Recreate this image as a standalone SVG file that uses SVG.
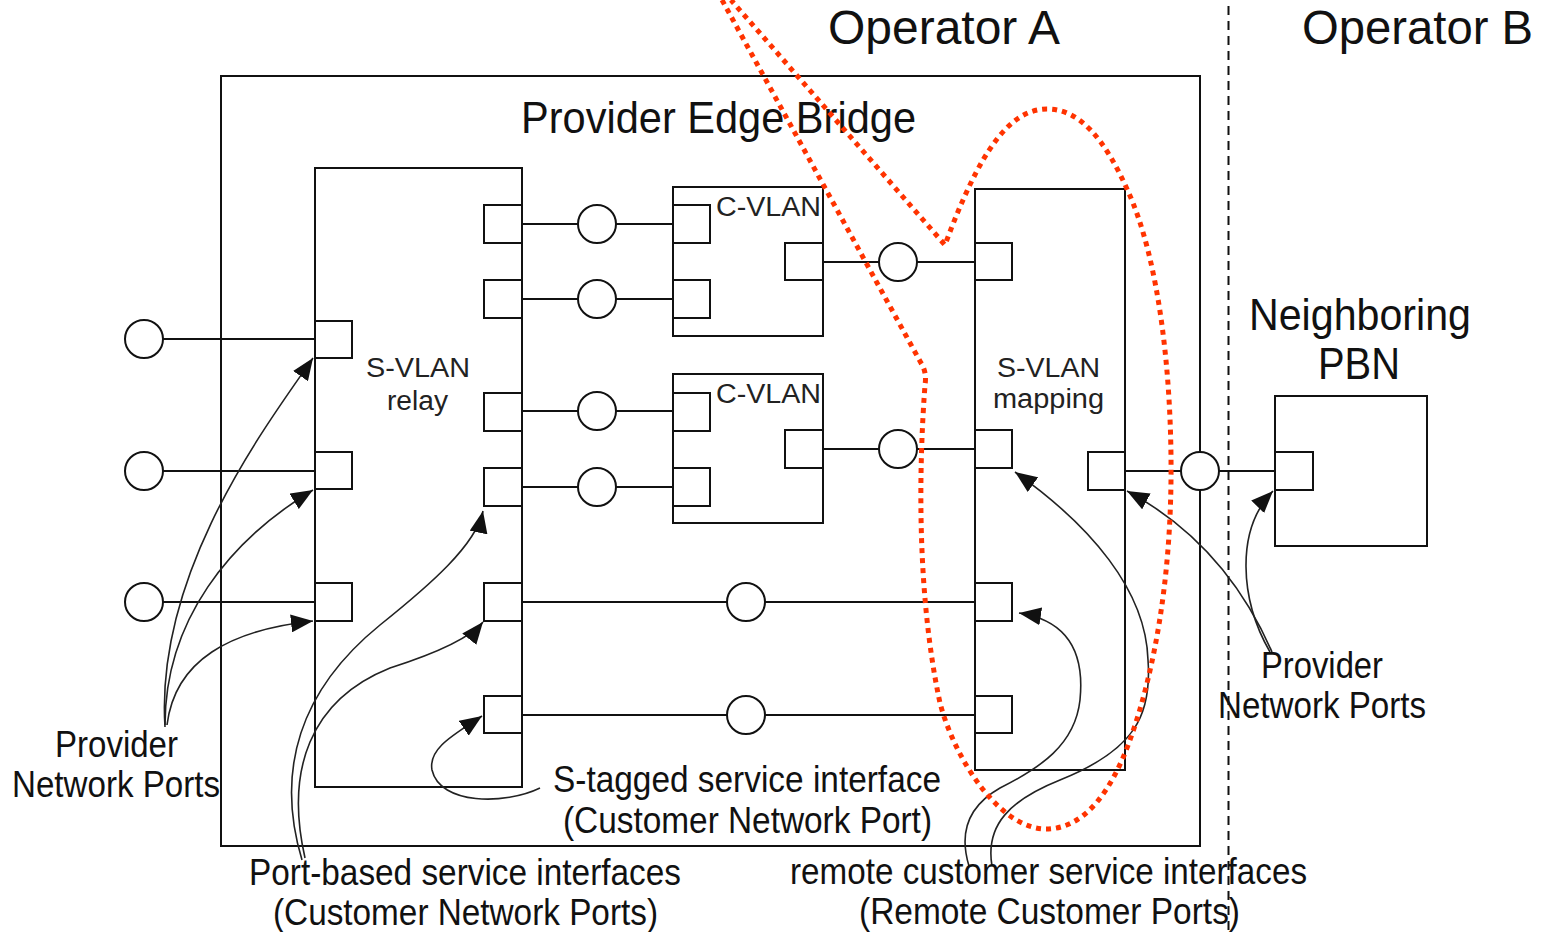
<svg xmlns="http://www.w3.org/2000/svg" width="1545" height="932" viewBox="0 0 1545 932">
<style>
.bx{fill:none;stroke:#111;stroke-width:2}
.pt{fill:#fff;stroke:#111;stroke-width:2}
.cr{fill:#fff;stroke:#111;stroke-width:2}
.ln{fill:none;stroke:#111;stroke-width:2}
.ar{fill:none;stroke:#222;stroke-width:1.6;marker-end:url(#ah)}
.red{fill:none;stroke:#ff3300;stroke-width:5;stroke-dasharray:5 5}
.dash{fill:none;stroke:#111;stroke-width:2;stroke-dasharray:9 6}
text{font-family:"Liberation Sans",Arial,sans-serif;fill:#111}
.big{font-size:48px}
.mid{font-size:44px}
.lab{font-size:37px}
.sm{font-size:27px;fill:#222}
</style>
<defs>
<marker id="ah" viewBox="0 0 22 18" refX="22" refY="9" markerWidth="22" markerHeight="18" markerUnits="userSpaceOnUse" orient="auto">
<path d="M0,0 L22,9 L0,18 z" fill="#111"/>
</marker>
</defs>
<rect width="1545" height="932" fill="#fff"/>

<g id="operator-labels">
<text class="big" x="828" y="44" textLength="232" lengthAdjust="spacingAndGlyphs">Operator A</text>
<text class="big" x="1302" y="44" textLength="231" lengthAdjust="spacingAndGlyphs">Operator B</text>
</g>
<line id="operator-boundary" class="dash" x1="1228.5" y1="6" x2="1228.5" y2="932"/>

<g id="provider-edge-bridge">
<rect class="bx" x="221" y="76" width="979" height="770"/>
<text class="mid" x="521" y="133" textLength="395" lengthAdjust="spacingAndGlyphs">Provider Edge Bridge</text>
</g>

<g id="svlan-relay">
<rect class="bx" x="315" y="168" width="207" height="619"/>
<rect class="pt" x="315" y="321" width="37" height="37"/>
<rect class="pt" x="315" y="452" width="37" height="37"/>
<rect class="pt" x="315" y="583" width="37" height="38"/>
<rect class="pt" x="484" y="205" width="38" height="38"/>
<rect class="pt" x="484" y="280" width="38" height="38"/>
<rect class="pt" x="484" y="393" width="38" height="38"/>
<rect class="pt" x="484" y="468" width="38" height="38"/>
<rect class="pt" x="484" y="583" width="38" height="38"/>
<rect class="pt" x="484" y="696" width="38" height="37"/>
<text class="sm" x="366" y="377" textLength="104" lengthAdjust="spacingAndGlyphs">S-VLAN</text>
<text class="sm" x="387" y="410" textLength="61" lengthAdjust="spacingAndGlyphs">relay</text>
</g>

<g id="cvlan-1">
<rect class="bx" x="673" y="187" width="150" height="149"/>
<rect class="pt" x="673" y="205" width="37" height="38"/>
<rect class="pt" x="673" y="280" width="37" height="38"/>
<rect class="pt" x="785" y="243" width="38" height="37"/>
<text class="sm" x="716" y="216" textLength="105" lengthAdjust="spacingAndGlyphs">C-VLAN</text>
</g>

<g id="cvlan-2">
<rect class="bx" x="673" y="374" width="150" height="149"/>
<rect class="pt" x="673" y="393" width="37" height="38"/>
<rect class="pt" x="673" y="468" width="37" height="38"/>
<rect class="pt" x="785" y="430" width="38" height="38"/>
<text class="sm" x="716" y="403" textLength="105" lengthAdjust="spacingAndGlyphs">C-VLAN</text>
</g>

<g id="svlan-mapping">
<rect class="bx" x="975" y="189" width="150" height="581"/>
<rect class="pt" x="975" y="243" width="37" height="37"/>
<rect class="pt" x="975" y="430" width="37" height="38"/>
<rect class="pt" x="975" y="583" width="37" height="38"/>
<rect class="pt" x="975" y="696" width="37" height="37"/>
<rect class="pt" x="1088" y="452" width="37" height="38"/>
<text class="sm" x="997" y="377" textLength="103" lengthAdjust="spacingAndGlyphs">S-VLAN</text>
<text class="sm" x="993" y="408" textLength="111" lengthAdjust="spacingAndGlyphs">mapping</text>
</g>

<g id="neighboring-pbn">
<rect class="bx" x="1275" y="396" width="152" height="150"/>
<rect class="pt" x="1275" y="452" width="38" height="38"/>
<text class="mid" x="1249" y="330" textLength="222" lengthAdjust="spacingAndGlyphs">Neighboring</text>
<text class="mid" x="1318" y="379" textLength="82" lengthAdjust="spacingAndGlyphs">PBN</text>
</g>

<g id="connectors">
<line class="ln" x1="163" y1="339" x2="315" y2="339"/>
<line class="ln" x1="163" y1="471" x2="315" y2="471"/>
<line class="ln" x1="163" y1="602" x2="315" y2="602"/>
<line class="ln" x1="522" y1="224" x2="673" y2="224"/>
<line class="ln" x1="522" y1="299" x2="673" y2="299"/>
<line class="ln" x1="522" y1="411" x2="673" y2="411"/>
<line class="ln" x1="522" y1="487" x2="673" y2="487"/>
<line class="ln" x1="522" y1="602" x2="975" y2="602"/>
<line class="ln" x1="522" y1="715" x2="975" y2="715"/>
<line class="ln" x1="823" y1="262" x2="975" y2="262"/>
<line class="ln" x1="823" y1="449" x2="975" y2="449"/>
<line class="ln" x1="1125" y1="471" x2="1275" y2="471"/>
<circle class="cr" cx="144" cy="339" r="19"/>
<circle class="cr" cx="144" cy="471" r="19"/>
<circle class="cr" cx="144" cy="602" r="19"/>
<circle class="cr" cx="597" cy="224" r="19"/>
<circle class="cr" cx="597" cy="299" r="19"/>
<circle class="cr" cx="597" cy="411" r="19"/>
<circle class="cr" cx="597" cy="487" r="19"/>
<circle class="cr" cx="746" cy="602" r="19"/>
<circle class="cr" cx="746" cy="715" r="19"/>
<circle class="cr" cx="898" cy="262" r="19"/>
<circle class="cr" cx="898" cy="449" r="19"/>
<circle class="cr" cx="1200" cy="471" r="19"/>
</g>

<g id="callouts">
<path class="ar" d="M165,727 C155,570 269,422 313,358"/>
<path class="ar" d="M165,725 C165,620 230,540 313,490"/>
<path class="ar" d="M167,725 C175,660 230,630 313,621"/>
<path class="ar" d="M302,860 C275,770 300,690 380,625 C430,585 476,545 483,511"/>
<path class="ar" d="M305,858 C285,770 310,700 390,668 C440,652 471,637 483,622"/>
<path class="ar" d="M540,788 C505,805 440,805 432,770 C428,748 455,734 482,716"/>
<path class="ar" d="M992,866 C985,825 1010,800 1060,780 C1135,750 1152,715 1148,660 C1146,590 1090,525 1015,472"/>
<path class="ar" d="M969,866 C958,830 970,805 1000,788 C1040,768 1075,745 1080,700 C1085,650 1065,620 1019,613"/>
<path class="ar" d="M1272,652 C1245,590 1200,530 1127,491"/>
<path class="ar" d="M1270,652 C1240,600 1235,530 1273,491"/>
</g>

<g id="labels">
<text class="lab" x="55" y="757" textLength="123" lengthAdjust="spacingAndGlyphs">Provider</text>
<text class="lab" x="12" y="797" textLength="208" lengthAdjust="spacingAndGlyphs">Network Ports</text>
<text class="lab" x="1261" y="678" textLength="122" lengthAdjust="spacingAndGlyphs">Provider</text>
<text class="lab" x="1218" y="718" textLength="208" lengthAdjust="spacingAndGlyphs">Network Ports</text>
<text class="lab" x="553" y="792" textLength="388" lengthAdjust="spacingAndGlyphs">S-tagged service interface</text>
<text class="lab" x="563" y="833" textLength="369" lengthAdjust="spacingAndGlyphs">(Customer Network Port)</text>
<text class="lab" x="249" y="885" textLength="432" lengthAdjust="spacingAndGlyphs">Port-based service interfaces</text>
<text class="lab" x="273" y="925" textLength="385" lengthAdjust="spacingAndGlyphs">(Customer Network Ports)</text>
<text class="lab" x="790" y="884" textLength="517" lengthAdjust="spacingAndGlyphs">remote customer service interfaces</text>
<text class="lab" x="859" y="924" textLength="381" lengthAdjust="spacingAndGlyphs">(Remote Customer Ports)</text>
</g>

<path id="highlight" class="red" d="M722,0 L921,363 Q927,372 925,385 C918,480 918,600 940,703 C955,760 1000,829 1046,829 C1085,829 1112,790 1130,740 C1155,670 1170,580 1171,480 C1172,380 1160,260 1127,189 C1105,140 1080,109 1047,109 C1010,109 980,150 945,245 L731,0"/>
</svg>
